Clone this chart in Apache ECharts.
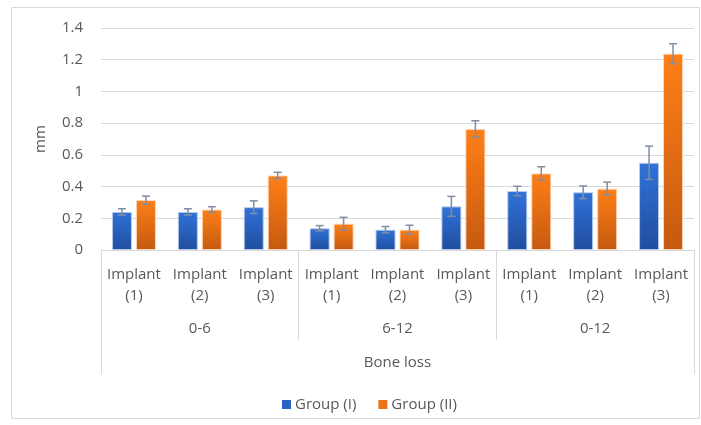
<!DOCTYPE html>
<html>
<head>
<meta charset="utf-8">
<script src="https://cdn.jsdelivr.net/npm/echarts@6/dist/echarts.min.js"></script>
<style>
  html, body { margin: 0; padding: 0; background: #fff; }
  #chart { width: 701px; height: 425px; }
</style>
</head>
<body>
<div id="chart"></div>
<script>
// bone loss (mm) per implant, in three periods
const implants = ['Implant\n(1)', 'Implant\n(2)', 'Implant\n(3)',
                  'Implant\n(1)', 'Implant\n(2)', 'Implant\n(3)',
                  'Implant\n(1)', 'Implant\n(2)', 'Implant\n(3)'];
const periods = ['0-6', '6-12', '0-12'];
const outerLabel = ['Bone loss'];
const groupNames = ['Group (I)', 'Group (II)'];

const group1 = [0.24, 0.24, 0.27, 0.137, 0.128, 0.275, 0.372, 0.364, 0.55];
const group1Err = [0.02, 0.02, 0.04, 0.017, 0.02, 0.063, 0.03, 0.04, 0.105];
const group2 = [0.315, 0.255, 0.47, 0.166, 0.128, 0.763, 0.483, 0.387, 1.238];
const group2Err = [0.025, 0.018, 0.02, 0.04, 0.028, 0.052, 0.042, 0.041, 0.063];

const font = 'Open Sans';
const txt = '#595959';
const lineCol = '#d9d9d9';
const legendColors = ['#2a62c4', '#ee7118'];
const barW = 20;
const gapPx = 4;

var dom = document.getElementById('chart');
var myChart = echarts.init(dom);

// error bar drawn at bar centre, shifted left/right
function errBar(shift) {
  return function (params, api) {
    var i = api.value(0);
    var v = api.value(1);
    var e = api.value(2);
    var x = api.coord([i, v])[0] + shift;
    var top = api.coord([i, v + e])[1];
    var bot = api.coord([i, v - e])[1];
    var st = { stroke: '#7f8ea3', lineWidth: 1.5 };
    return {
      type: 'group',
      children: [
        { type: 'line', shape: { x1: x, y1: top, x2: x, y2: bot }, style: st },
        { type: 'line', shape: { x1: x - 4, y1: top, x2: x + 4, y2: top }, style: st },
        { type: 'line', shape: { x1: x - 4, y1: bot, x2: x + 4, y2: bot }, style: st }
      ]
    };
  };
}

function grad(top, bottom) {
  return new echarts.graphic.LinearGradient(0, 0, 0, 1, [
    { offset: 0, color: top },
    { offset: 1, color: bottom }
  ]);
}

var option = {
  animation: false,
  textStyle: { fontFamily: font },
  graphic: [{
    type: 'rect',
    shape: { x: 11.5, y: 7.5, width: 688, height: 411 },
    style: { fill: 'none', stroke: lineCol, lineWidth: 1 },
    silent: true
  }],
  legend: {
    data: groupNames.map((n, i) => ({ name: n, itemStyle: { color: legendColors[i], borderWidth: 0 } })),
    left: 277,
    top: 392,
    itemWidth: 9,
    itemHeight: 9,
    itemGap: 22,
    icon: 'rect',
    textStyle: { fontFamily: font, fontSize: 15, color: txt, padding: [0, 0, 0, -1] }
  },
  grid: { left: 101, right: 7, top: 28, bottom: 175 },
  yAxis: {
    type: 'value',
    min: 0,
    max: 1.4,
    interval: 0.2,
    name: 'mm',
    nameLocation: 'middle',
    nameGap: 53,
    nameTextStyle: { fontFamily: font, fontSize: 15, color: txt },
    axisLine: { show: false },
    axisTick: { show: false },
    axisLabel: { fontFamily: font, fontSize: 15, color: txt, margin: 18 },
    splitLine: { lineStyle: { color: lineCol, width: 1 } }
  },
  xAxis: [
    {
      type: 'category',
      data: implants,
      axisLine: { lineStyle: { color: lineCol } },
      axisTick: { show: false },
      axisLabel: { fontFamily: font, fontSize: 15, color: txt, lineHeight: 21, margin: 14, interval: 0 }
    },
    {
      type: 'category',
      data: periods,
      position: 'bottom',
      offset: 90,
      axisLine: { show: false },
      axisTick: { show: true, inside: true, length: 90, lineStyle: { color: lineCol } },
      axisLabel: { inside: true, fontFamily: font, fontSize: 15, color: txt, margin: 4 }
    },
    {
      type: 'category',
      data: outerLabel,
      position: 'bottom',
      offset: 124,
      axisLine: { show: false },
      axisTick: { show: true, inside: true, length: 124, lineStyle: { color: lineCol } },
      axisLabel: { inside: true, fontFamily: font, fontSize: 15, color: txt, margin: 4 }
    }
  ],
  series: [
    {
      name: groupNames[0],
      type: 'bar',
      barWidth: barW,
      barGap: '20%',
      data: group1,
      itemStyle: { color: grad('#3172d9', '#1f4e9e'), borderColor: 'rgba(190,205,235,0.9)', borderWidth: 1 }
    },
    {
      name: groupNames[1],
      type: 'bar',
      barWidth: barW,
      data: group2,
      itemStyle: { color: grad('#ff7f17', '#c45a10'), borderColor: 'rgba(255,215,185,0.9)', borderWidth: 1 }
    },
    {
      type: 'custom',
      renderItem: errBar(-(barW + gapPx) / 2),
      data: group1.map((v, i) => [i, v, group1Err[i]]),
      encode: { x: 0, y: 1 },
      z: 10
    },
    {
      type: 'custom',
      renderItem: errBar((barW + gapPx) / 2),
      data: group2.map((v, i) => [i, v, group2Err[i]]),
      encode: { x: 0, y: 1 },
      z: 10
    }
  ]
};

if (option && typeof option === 'object') {
  myChart.setOption(option);
}
</script>
</body>
</html>
